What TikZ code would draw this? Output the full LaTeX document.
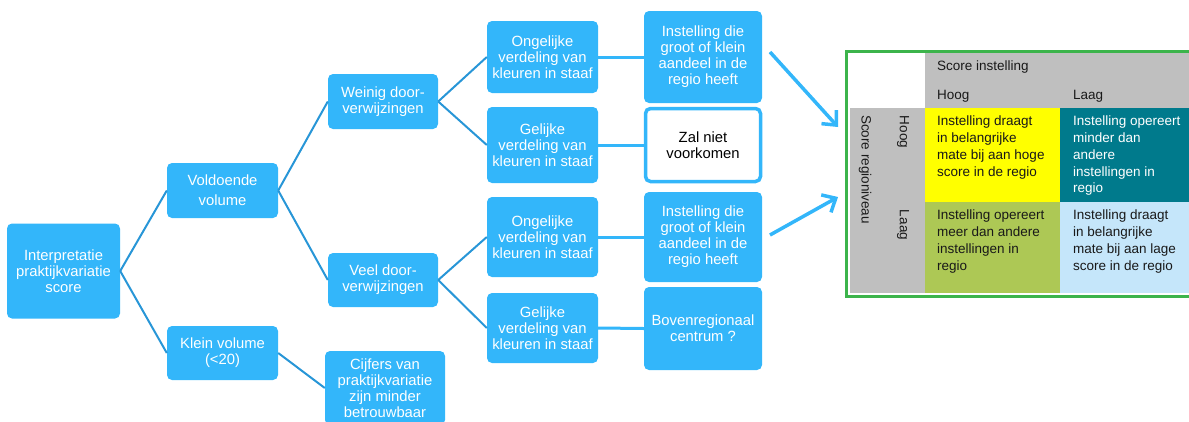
\documentclass[tikz,border=0pt]{standalone}
\usepackage{fontspec}
\setmainfont{Liberation Sans}
\usetikzlibrary{arrows.meta}
\definecolor{boxblue}{RGB}{51,182,250}
\definecolor{lineblue}{RGB}{40,150,215}
\definecolor{tgray}{RGB}{191,191,191}
\definecolor{tyellow}{RGB}{255,255,0}
\definecolor{tteal}{RGB}{0,122,140}
\definecolor{tgreen}{RGB}{173,200,85}
\definecolor{tlight}{RGB}{197,230,250}
\definecolor{tborder}{RGB}{60,180,75}
\definecolor{tdark}{RGB}{25,25,25}
\begin{document}
\begin{tikzpicture}[x=1pt,y=-1pt,
  box/.style={rectangle, rounded corners=5pt, fill=boxblue, text=white, align=center, inner sep=0pt, font=\fontsize{14.8}{16}\selectfont},
  tree/.style={draw=lineblue, line width=2pt},
  hline/.style={draw=boxblue, line width=3pt},
  arr/.style={draw=boxblue, line width=3.5pt, -{Straight Barb[length=11pt,width=20pt]}},
  celltext/.style={anchor=north west, align=left, inner sep=0pt, font=\fontsize{13.5}{16.7}\selectfont},
  headtext/.style={anchor=base west, inner sep=0pt, text=tdark, font=\fontsize{13.5}{16}\selectfont},
  sidetext/.style={rotate=-90, inner sep=0pt, text=tdark, font=\fontsize{13.5}{16}\selectfont},
]
\useasboundingbox (0,0) rectangle (1189,421);

% tree nodes
\node[box, minimum width=113pt, minimum height=95pt] (root) at (63.5,271) {Interpretatie\\praktijkvariatie\\score};
\node[box, minimum width=111pt, minimum height=55pt] (vol) at (222.5,190.5) {Voldoende\\[4pt]volume};
\node[box, minimum width=111pt, minimum height=54pt] (klein) at (222.5,353) {Klein volume\\(<20)};
\node[box, minimum width=110pt, minimum height=55pt] (weinig) at (383,101.5) {Weinig door-\\verwijzingen};
\node[box, minimum width=110pt, minimum height=54pt] (veel) at (383,280) {Veel door-\\verwijzingen};
\node[box, minimum width=120pt, minimum height=74pt] (cijf) at (385,388) {Cijfers van\\praktijkvariatie\\zijn minder\\betrouwbaar};

\node[box, minimum width=111pt, minimum height=72pt] (ong1) at (542.5,57) {Ongelijke\\verdeling van\\kleuren in staaf};
\node[box, minimum width=111pt, minimum height=76pt] (gel1) at (542.5,145) {Gelijke\\verdeling van\\kleuren in staaf};
\node[box, minimum width=111pt, minimum height=80pt] (ong2) at (542.5,237) {Ongelijke\\verdeling van\\kleuren in staaf};
\node[box, minimum width=111pt, minimum height=70pt] (gel2) at (542.5,328) {Gelijke\\verdeling van\\kleuren in staaf};

\node[box, minimum width=118pt, minimum height=92pt] (inst1) at (703,57) {Instelling die\\groot of klein\\aandeel in de\\regio heeft};
\node[box, fill=white, text=black, draw=boxblue, line width=3.5pt, minimum width=115pt, minimum height=73pt] (zal) at (703,145) {Zal niet\\voorkomen};
\node[box, minimum width=118pt, minimum height=90pt] (inst2) at (703,237) {Instelling die\\groot of klein\\aandeel in de\\regio heeft};
\node[box, minimum width=118pt, minimum height=83pt] (boven) at (703,328.5) {Bovenregionaal\\centrum ?};

% tree connectors
\draw[tree] (root.east) -- (vol.west);
\draw[tree] (root.east) -- (klein.west);
\draw[tree] (vol.east) -- (weinig.west);
\draw[tree] (vol.east) -- (veel.west);
\draw[tree] (klein.east) -- (cijf.west);
\draw[tree] (weinig.east) -- (ong1.west);
\draw[tree] (weinig.east) -- (gel1.west);
\draw[tree] (veel.east) -- (ong2.west);
\draw[tree] (veel.east) -- (gel2.west);

% horizontal connectors
\draw[hline] (ong1.east) -- (inst1.west);
\draw[hline] (gel1.east) -- (zal.west);
\draw[hline] (ong2.east) -- (inst2.west);
\draw[hline] (gel2.east) -- (boven.west);

% arrows to table
\coordinate (a1s) at (770,52);
\coordinate (a1e) at (838,127);
\coordinate (a2s) at (770,235);
\coordinate (a2e) at (838,197);
\draw[arr] (a1s) -- (a1e);
\draw[arr] (a2s) -- (a2e);

% table
\fill[tgray] (925,53) rectangle (1189,108);
\fill[tgray] (850,108) rectangle (925,293);
\fill[tyellow] (925,108) rectangle (1060,202);
\fill[tteal] (1060,108) rectangle (1189,202);
\fill[tgreen] (925,202) rectangle (1060,293);
\fill[tlight] (1060,202) rectangle (1189,293);
\draw[tborder, line width=3pt] (1189,51) -- (846.5,51) -- (846.5,296) -- (1189,296);

\node[headtext] (hscore) at (937,70) {Score instelling};
\node[headtext] (hhoog) at (937,99) {Hoog};
\node[headtext] (hlaag) at (1073,99) {Laag};

\node[sidetext, anchor=west] (vscore) at (865,115) {Score regioniveau};
\node[sidetext] (vhoog) at (903,132) {Hoog};
\node[sidetext] (vlaag) at (903,225) {Laag};

\node[celltext, text=tdark] (c11) at (937,116) {Instelling draagt\\in belangrijke\\mate bij aan hoge\\score in de regio};
\node[celltext, text=white] (c12) at (1073,116) {Instelling opereert\\minder dan\\andere\\instellingen in\\regio};
\node[celltext, text=tdark] (c21) at (937,210) {Instelling opereert\\meer dan andere\\instellingen in\\regio};
\node[celltext, text=tdark] (c22) at (1073,210) {Instelling draagt\\in belangrijke\\mate bij aan lage\\score in de regio};
\end{tikzpicture}
\end{document}
